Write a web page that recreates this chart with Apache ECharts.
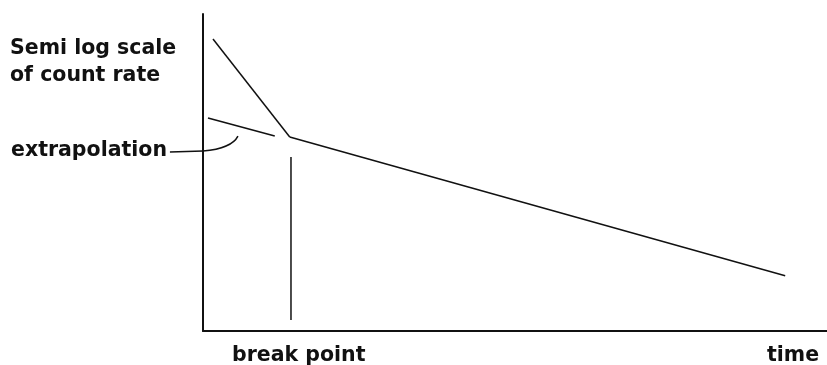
<!DOCTYPE html>
<html>
<head>
<meta charset="utf-8">
<script src="https://cdn.jsdelivr.net/npm/echarts@6/dist/echarts.min.js"></script>
<style>
  html, body { margin: 0; padding: 0; background: #fff; }
  #chart { width: 827px; height: 365px; }
</style>
</head>
<body>
<div id="chart"></div>
<script>
// values in arbitrary axis units (time vs log count rate)
var steepPart = [[1.6, 92.1], [13.9, 61.2]];
var slowPart = [[13.9, 61.2], [93.3, 17.4]];
var extrapolation = [[0.8, 67.2], [11.5, 61.5]];
var breakLine = [[14.1, 54.9], [14.1, 3.5]];
// leader from the label to the extrapolated line: start, elbow, control, end
var leader = [[-5.3, 56.5], [0, 56.8], [4.6, 57.6], [5.6, 61.5]];

var yLabel = 'Semi log scale\nof count rate';
var extrapLabel = 'extrapolation';
var breakLabel = 'break point';
var xLabel = 'time';

var font = 'bold 20.5px "DejaVu Sans"';
var ink = '#111';

function lineSeries(data) {
  return {
    type: 'line',
    data: data,
    symbol: 'none',
    silent: true,
    lineStyle: { color: ink, width: 1.5 }
  };
}

var chart = echarts.init(document.getElementById('chart'));
chart.setOption({
  animation: false,
  backgroundColor: '#fff',
  grid: { left: 203, right: 0, top: 14, bottom: 34 },
  xAxis: {
    type: 'value', min: 0, max: 100,
    axisLine: { show: true, lineStyle: { color: ink, width: 2 } },
    axisTick: { show: false }, axisLabel: { show: false }, splitLine: { show: false }
  },
  yAxis: {
    type: 'value', min: 0, max: 100,
    axisLine: { show: true, lineStyle: { color: ink, width: 2 } },
    axisTick: { show: false }, axisLabel: { show: false }, splitLine: { show: false }
  },
  series: [
    lineSeries(steepPart),
    lineSeries(slowPart),
    lineSeries(extrapolation),
    lineSeries(breakLine)
  ]
});

// leader is drawn outside the grid, so place it through the axes by hand
var lp = leader.map(function (d) { return chart.convertToPixel({ gridIndex: 0 }, d); });

chart.setOption({
  graphic: [
    { type: 'polyline', shape: { points: [lp[0], lp[1]] },
      style: { stroke: ink, lineWidth: 1.5, fill: null } },
    { type: 'bezierCurve',
      shape: { x1: lp[1][0], y1: lp[1][1], cpx1: lp[2][0], cpy1: lp[2][1], x2: lp[3][0], y2: lp[3][1] },
      style: { stroke: ink, lineWidth: 1.5, fill: null } },
    { type: 'text', left: 10, top: 35,
      style: { text: yLabel, font: font, fill: ink, lineHeight: 27 } },
    { type: 'text', left: 11, top: 140,
      style: { text: extrapLabel, font: font, fill: ink } },
    { type: 'text', left: 232, top: 345,
      style: { text: breakLabel, font: font, fill: ink } },
    { type: 'text', left: 767, top: 345,
      style: { text: xLabel, font: font, fill: ink } }
  ]
});
</script>
</body>
</html>
